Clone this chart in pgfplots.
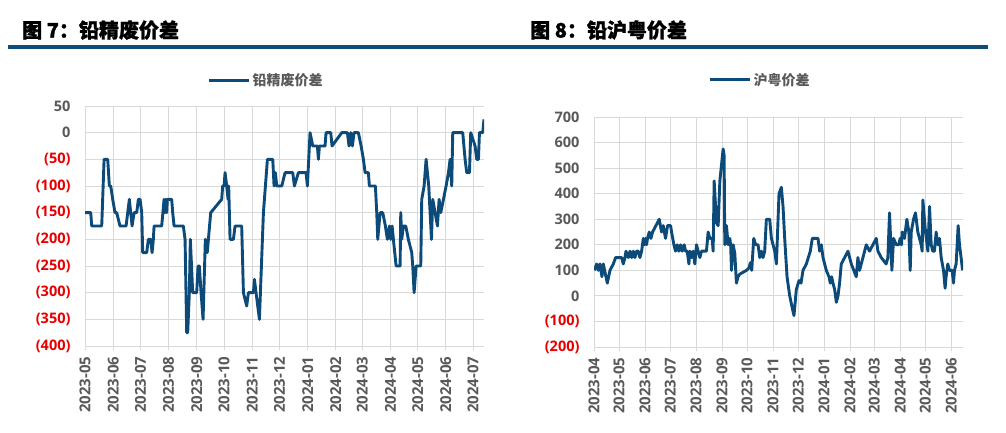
\documentclass[border=0pt]{standalone}
\usepackage{pgfplots}
\pgfplotsset{compat=1.18}
\usepackage{fontspec}
\setmainfont{Noto Sans CJK SC}
\newfontfamily\titlefont{Noto Sans CJK SC}[BoldFeatures={FakeBold=1.2}]
\newfontfamily\numfont{Open Sans}
\definecolor{seriesblue}{RGB}{12,74,122}
\definecolor{rulecol}{RGB}{16,76,118}
\definecolor{gridgray}{RGB}{217,217,217}
\definecolor{labgray}{RGB}{89,89,89}
\definecolor{negred}{RGB}{232,0,0}
\newcommand{\nr}[1]{\textcolor{negred}{#1}}
\pgfplotsset{
  refstyle/.style={
    scale only axis,
    anchor=south west,
    axis lines*=left,
    axis line style={draw=gridgray, line width=1pt, -},
    y axis line style={draw=none},
    grid=major,
    grid style={draw=gridgray, line width=0.9pt},
    tick align=outside,
    major tick length=4pt,
    xtick style={draw=gridgray, line width=0.9pt},
    ytick style={draw=none},
    yticklabel style={font=\numfont\bfseries\fontsize{14.5}{16}\selectfont, text=labgray, xshift=-7pt},
    xticklabel style={font=\numfont\bfseries\fontsize{15}{16}\selectfont, text=labgray, rotate=90, anchor=east, xshift=-3pt},
    legend style={draw=none, fill=none, anchor=center,
      font=\bfseries\fontsize{14}{16}\selectfont, text=labgray},
    legend image code/.code={\draw[#1, line width=3pt] (0pt,0pt) -- (40pt,0pt);},
  }
}
\begin{document}
\begin{tikzpicture}[x=1pt,y=1pt]
\path[use as bounding box] (0,0) rectangle (1006,432);
% titles and rule
\node[anchor=west, inner sep=0pt, font=\titlefont\bfseries\fontsize{20}{22}\selectfont] at (22,402) {图 7：铅精废价差};
\node[anchor=west, inner sep=0pt, font=\titlefont\bfseries\fontsize{20}{22}\selectfont] at (530,402) {图 8：铅沪粤价差};
\fill[rulecol] (8,383) rectangle (988,387);

\begin{axis}[refstyle,
  at={(85pt,86pt)}, width=399pt, height=240pt,
  xmin=0, xmax=439, ymin=-400, ymax=50,
  ytick={-400,-350,-300,-250,-200,-150,-100,-50,0,50},
  yticklabels={\nr{(400)},\nr{(350)},\nr{(300)},\nr{(250)},\nr{(200)},\nr{(150)},\nr{(100)},\nr{(50)},0,50},
  xtick={0,31,61,92,123,153,184,214,245,276,305,336,366,397,427},
  xticklabels={2023-05,2023-06,2023-07,2023-08,2023-09,2023-10,2023-11,2023-12,2024-01,2024-02,2024-03,2024-04,2024-05,2024-06,2024-07},
  legend style={at={(0.454,1.108)}},
]
\addplot[seriesblue, line width=2.9pt, line join=round] coordinates {
(0,-150) (6.3,-150) (7.4,-175) (18.4,-175) (21,-50) (25,-50) (26.8,-100) (28.3,-100) (30.5,-125) (33,-150) (34.9,-150) (38.5,-175) (45.2,-175) (47,-150) (48.8,-125) (51.8,-175) (54,-150) (56.9,-150) (58.7,-125) (60.6,-125) (62.4,-150) (63.5,-225) (67.9,-225) (69.7,-200) (72.3,-200) (73.8,-225) (75.2,-200) (76,-175) (84.4,-175) (87,-125) (88.1,-150) (88.8,-125) (89.9,-150) (90.6,-125) (95.4,-125) (96.5,-150) (98,-175) (108.2,-175) (110.1,-200) (111.9,-375) (113,-375) (114.8,-300) (115.9,-200) (118.5,-300) (122.9,-300) (124.4,-250) (125.8,-250) (127.7,-300) (129.9,-350) (132.4,-200) (134.5,-225) (138.3,-150) (150.4,-125) (151.5,-100) (153,-100) (154.1,-75) (155.9,-100) (157.4,-125) (158.1,-100) (159.6,-200) (163.3,-200) (165.1,-175) (172.4,-175) (174.3,-300) (177.9,-325) (179.8,-300) (185.3,-300) (186.4,-275) (188.2,-300) (191.9,-350) (195.2,-200) (196.3,-150) (200.7,-50) (206.6,-50) (208,-100) (209.5,-75) (211,-100) (216.5,-100) (220.1,-75) (228.6,-75) (230.4,-100) (234.8,-75) (243.2,-75) (244.7,-100) (247.6,0) (250.6,-25) (255.7,-25) (256.8,-50) (257.9,-25) (264.1,-25) (265.2,0) (270.4,0) (271.8,-25) (282.5,0) (288.7,0) (290.5,-25) (292.4,0) (294.2,-25) (296,0) (300.8,0) (303.8,-25) (306.3,-50) (308.2,-75) (311.8,-75) (312.9,-100) (319.5,-100) (321,-150) (322.1,-200) (324.7,-150) (327.6,-150) (330.5,-175) (332.7,-200) (335,-175) (336.4,-200) (337.9,-175) (339.3,-200) (340.8,-225) (342.3,-250) (346.7,-250) (347.4,-150) (348.5,-200) (350.3,-175) (352.9,-175) (355.8,-200) (359.5,-225) (360.6,-250) (362.1,-300) (364.3,-250) (369.4,-250) (370.5,-125) (373.1,-100) (375.3,-50) (378.2,-100) (381.2,-200) (382.6,-125) (387.8,-175) (389.6,-125) (391.4,-150) (394.4,-125) (397.3,-100) (399.9,-75) (401.7,-50) (403.5,-100) (404.6,0) (415.6,0) (418.2,-50) (420,-75) (423,-75) (424.4,0) (429.2,-25) (431,-50) (432.9,-50) (434,0) (437.6,0) (439,25)
};
\addlegendentry{铅精废价差}
\end{axis}

\begin{axis}[refstyle,
  at={(594pt,85pt)}, width=369pt, height=230pt,
  xmin=0, xmax=441, ymin=-200, ymax=700,
  ytick={-200,-100,0,100,200,300,400,500,600,700},
  yticklabels={\nr{(200)},\nr{(100)},0,100,200,300,400,500,600,700},
  xtick={0,30,61,91,122,153,183,214,244,275,306,335,366,396,427},
  xticklabels={2023-04,2023-05,2023-06,2023-07,2023-08,2023-09,2023-10,2023-11,2023-12,2024-01,2024-02,2024-03,2024-04,2024-05,2024-06},
  legend style={at={(0.45,1.161)}},
]
\addplot[seriesblue, line width=2.9pt, line join=round] coordinates {
(0.4,100) (3.2,125) (5.2,100) (7.1,125) (8.3,100) (9.5,75) (11.1,125) (12.7,100) (14.3,75) (15.9,50) (19.1,100) (23.1,125) (25.8,150) (33,150) (35,125) (37,150) (38.2,175) (41,150) (43,175) (45,150) (46.9,175) (48.9,150) (50.9,175) (52.9,175) (54.9,150) (56.9,175) (58.9,225) (60.1,200) (61.6,225) (62.8,200) (64,225) (66,250) (68,225) (70,250) (74,275) (78,300) (80.7,250) (82.7,275) (85.5,225) (87.9,275) (91.5,275) (92.7,250) (95.5,200) (97.4,175) (99.4,200) (101.4,175) (103.4,200) (105.4,175) (107.8,200) (109.4,175) (111.4,175) (113.4,125) (114.5,175) (116.5,150) (118.5,175) (120.5,125) (122.5,200) (124.5,175) (126.5,150) (128.5,175) (134.4,175) (136.4,250) (138.4,225) (141.2,225) (142.4,175) (143.6,450) (146.4,285) (148.4,275) (150.4,450) (154.3,575) (155.5,550) (156.3,200) (158.3,275) (160.3,200) (162.3,225) (163.3,200) (164.3,100) (166.3,200) (168.3,165) (170.2,50) (172.2,75) (174.2,85) (182.2,100) (185.3,110) (186.9,130) (188.5,100) (190.9,225) (193.3,200) (196.1,200) (198.1,150) (200.1,175) (202,150) (204,175) (206,300) (210,300) (212,225) (214,200) (216,175) (218,125) (221.1,400) (223.9,425) (225.9,350) (227.9,225) (230.7,75) (233.9,0) (237.1,-50) (239,-77) (241.8,25) (245,60) (247.4,50) (249.8,100) (253.8,125) (258.5,175) (260.9,225) (267.7,225) (269.7,175) (271.7,200) (273.7,150) (277.6,100) (280.8,75) (282.4,50) (284,75) (285.6,50) (287.6,25) (289.6,-25) (291.6,0) (293.5,50) (295.5,125) (299.5,150) (303.5,175) (307.5,125) (313.4,75) (315.4,150) (317.4,100) (319.4,125) (321.4,150) (325.4,200) (329.3,175) (333.3,200) (337.3,225) (339.3,175) (343.3,150) (349.2,125) (351.2,150) (353.2,325) (356,100) (358,225) (361.2,200) (364.3,200) (365.9,225) (367.5,200) (368.3,250) (371.1,225) (373.9,300) (376.3,250) (377.9,100) (379.1,250) (381.9,300) (384.2,325) (387,250) (391,200) (392.2,175) (393,375) (396.2,250) (399,175) (401,350) (403,200) (404.9,175) (406.9,175) (408.9,250) (410.9,200) (412.9,225) (414.9,150) (417.7,100) (419.6,30) (420.8,75) (422.8,125) (424.8,100) (428,100) (429.6,50) (430.8,100) (432.8,125) (435.2,275) (436.8,200) (438.7,150) (440.5,100)
};
\addlegendentry{沪粤价差}
\end{axis}
\end{tikzpicture}
\end{document}
